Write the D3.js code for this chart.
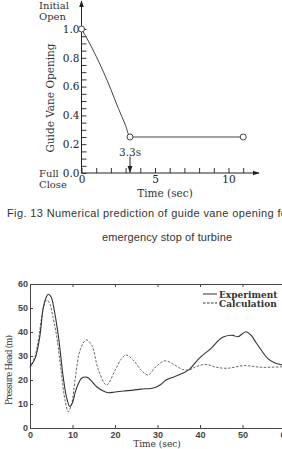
<!DOCTYPE html>
<html>
<head>
<meta charset="utf-8">
<script src="https://cdn.jsdelivr.net/npm/d3@7"></script>
<style>
  body { margin: 0; background: #fff; }
  svg { display: block; }
</style>
</head>
<body>
<div id="chart"></div>
<script>
// guide vane closing law (Fig. 13)
var vaneTime  = [0, 0.5, 1.0, 1.5, 2.0, 2.5, 3.0, 3.3, 11];
var vaneOpen  = [1.0, 0.91, 0.81, 0.70, 0.58, 0.45, 0.33, 0.25, 0.25];
var vaneMarks = [0, 3.3, 11];
var vaneYTicks = d3.range(0, 1.0001, 0.05);
var vaneYLabels = [0, 0.2, 0.4, 0.6, 0.8, 1.0];
var vaneXTicks = d3.range(0, 12, 1);
var vaneXLabels = [0, 5, 10];

// pressure head at spiral case
var expTime = [0, 1.2, 2.3, 3.1, 3.7, 4.3, 5.0, 5.5, 6.7, 7.8, 8.7, 9.4, 10.0, 10.6, 11.4, 12.2, 13.5, 14.5, 15.7, 17.0, 18.4, 20, 22, 24.3, 26.1, 29.3, 30.8, 32, 34, 35.9, 37.5, 39.8, 42.6, 44.5, 45.6, 47.7, 48.9, 50.8, 52, 53.2, 54.4, 55.9, 57.5, 59.3, 60];
var expHead = [25.5, 29, 38, 50, 54, 55.7, 54.5, 51, 38, 21.4, 12, 8.9, 10.5, 14.6, 18.5, 20.8, 21.1, 19.5, 17.2, 15.6, 14.7, 15.0, 15.4, 15.8, 16.2, 16.8, 18.2, 20, 21.4, 22.8, 24.4, 29, 33.2, 36.7, 38, 38.6, 38, 40.1, 38.7, 35.5, 32.5, 29, 27.2, 26.3, 26.1];
var calTime = [0, 1.2, 2.0, 2.7, 3.3, 3.9, 4.6, 5.3, 6.3, 7.3, 8.3, 9.0, 9.8, 10.6, 11.8, 13.2, 14.5, 16.1, 18.0, 20, 21.4, 22.6, 24.3, 26.1, 27.8, 29.6, 31.8, 34, 35.9, 37.5, 39, 41.4, 43.8, 46.5, 50.4, 54.4, 59.3, 60];
var calHead = [25, 30, 37, 45.7, 51, 53.3, 52, 47, 38, 24, 11, 6.8, 10, 20, 32.5, 36.7, 34.6, 24.2, 17.9, 24, 28.6, 30.4, 28.3, 24.2, 22.1, 25.5, 28, 26.3, 24.4, 24.2, 25.5, 26.5, 25.3, 24.9, 26, 25.3, 25.5, 25.5];
var headTicks = [0, 10, 20, 30, 40, 50, 60];
var timeTicks = [0, 10, 20, 30, 40, 50, 60];

var W = 282, H = 449;
var serif = "'DejaVu Serif', serif";
var sans = "'Liberation Sans', Arial, sans-serif";

var svg = d3.select("#chart").append("svg")
    .attr("width", W)
    .attr("height", H);

svg.append("rect").attr("width", W).attr("height", H).attr("fill", "#fff");

var defs = svg.append("defs");
defs.append("marker")
    .attr("id", "arrow")
    .attr("viewBox", "0 0 10 10")
    .attr("refX", 9).attr("refY", 5)
    .attr("markerWidth", 7).attr("markerHeight", 7)
    .attr("orient", "auto")
    .append("path")
    .attr("d", "M0,1.5 L10,5 L0,8.5 Z")
    .attr("fill", "#222");

// ---------- top chart ----------
var xT = d3.scaleLinear().domain([0, 10]).range([81.5, 228.5]);
var yT = d3.scaleLinear().domain([0, 1]).range([173, 29]);
var topG = svg.append("g");

// axis lines with arrows
topG.append("line")
    .attr("x1", xT(0)).attr("y1", yT(0))
    .attr("x2", xT(0)).attr("y2", 1)
    .attr("stroke", "#222").attr("stroke-width", 1)
    .attr("marker-end", "url(#arrow)");
topG.append("line")
    .attr("x1", xT(0)).attr("y1", yT(0))
    .attr("x2", 259).attr("y2", yT(0))
    .attr("stroke", "#222").attr("stroke-width", 1)
    .attr("marker-end", "url(#arrow)");

var yAxT = topG.append("g")
    .attr("transform", "translate(" + xT(0) + ",0)")
    .call(d3.axisLeft(yT)
        .tickValues(vaneYTicks)
        .tickSizeInner(-5).tickSizeOuter(0)
        .tickPadding(2)
        .tickFormat(function(d) {
            return vaneYLabels.some(function(v) { return Math.abs(v - d) < 1e-6; }) ? d3.format(".1f")(d) : "";
        }));
yAxT.select(".domain").remove();
yAxT.selectAll("line").attr("stroke", "#333");
yAxT.selectAll("text").attr("font-family", serif).attr("font-size", 10.5).attr("fill", "#222");

var xAxT = topG.append("g")
    .attr("transform", "translate(0," + yT(0) + ")")
    .call(d3.axisBottom(xT)
        .tickValues(vaneXTicks)
        .tickSizeInner(-5).tickSizeOuter(0)
        .tickPadding(3)
        .tickFormat(function(d) { return vaneXLabels.indexOf(d) >= 0 ? d : ""; }));
xAxT.select(".domain").remove();
xAxT.selectAll("line").attr("stroke", "#333");
xAxT.selectAll("text").attr("font-family", serif).attr("font-size", 10.5).attr("fill", "#222");

// curve
var vaneData = vaneTime.map(function(t, i) { return [t, vaneOpen[i]]; });
topG.append("path")
    .datum(vaneData)
    .attr("fill", "none")
    .attr("stroke", "#444")
    .attr("stroke-width", 1)
    .attr("d", d3.line()
        .x(function(d) { return xT(d[0]); })
        .y(function(d) { return yT(d[1]); })
        .curve(d3.curveMonotoneX));

topG.selectAll("circle.mk")
    .data(vaneMarks)
    .enter().append("circle")
    .attr("class", "mk")
    .attr("cx", function(d) { return xT(d); })
    .attr("cy", function(d) {
        var i = vaneTime.indexOf(d);
        return yT(vaneOpen[i]);
    })
    .attr("r", 3)
    .attr("fill", "#fff")
    .attr("stroke", "#444")
    .attr("stroke-width", 1);

// 3.3s marker
topG.append("line")
    .attr("x1", xT(3.3)).attr("y1", yT(0.115))
    .attr("x2", xT(3.3)).attr("y2", yT(0.005))
    .attr("stroke", "#222").attr("stroke-width", 1)
    .attr("marker-end", "url(#arrow)");
topG.append("text")
    .attr("x", xT(3.3)).attr("y", 156)
    .attr("text-anchor", "middle")
    .attr("font-family", serif).attr("font-size", 10.5).attr("fill", "#333")
    .text("3.3s");

// side labels
function sideText(txt, x, y) {
    topG.append("text")
        .attr("x", x).attr("y", y)
        .attr("font-family", serif).attr("font-size", 10).attr("fill", "#333")
        .text(txt);
}
sideText("Initial", 39, 9);
sideText("Open", 39, 20);
sideText("Full", 39, 177);
sideText("Close", 39, 188);

topG.append("text")
    .attr("transform", "translate(54,98) rotate(-90)")
    .attr("text-anchor", "middle")
    .attr("font-family", serif).attr("font-size", 10.5).attr("fill", "#333")
    .text("Guide Vane Opening");

topG.append("text")
    .attr("x", 165).attr("y", 197)
    .attr("text-anchor", "middle")
    .attr("font-family", serif).attr("font-size", 10.5).attr("fill", "#333")
    .text("Time (sec)");

// caption (runs past the right edge, as in the source scan)
svg.append("text")
    .attr("x", 7).attr("y", 217)
    .attr("font-family", sans).attr("font-size", 11).attr("fill", "#333")
    .attr("textLength", 284).attr("lengthAdjust", "spacing")
    .text("Fig. 13 Numerical prediction of guide vane opening for");
svg.append("text")
    .attr("x", 167).attr("y", 241)
    .attr("text-anchor", "middle")
    .attr("font-family", sans).attr("font-size", 11).attr("fill", "#333")
    .attr("textLength", 130).attr("lengthAdjust", "spacing")
    .text("emergency stop of turbine");

// ---------- bottom chart ----------
var xB = d3.scaleLinear().domain([0, 60]).range([30, 285]);
var yB = d3.scaleLinear().domain([0, 60]).range([428, 284]);
var bot = svg.append("g");

var xAxB = bot.append("g")
    .attr("transform", "translate(0," + yB(0) + ")")
    .call(d3.axisBottom(xB).tickValues(timeTicks)
        .tickSizeInner(-3).tickSizeOuter(0).tickPadding(4));
var xAxB2 = bot.append("g")
    .attr("transform", "translate(0," + yB(60) + ")")
    .call(d3.axisTop(xB).tickValues(timeTicks)
        .tickSizeInner(-3).tickSizeOuter(0).tickFormat(""));
var yAxB = bot.append("g")
    .attr("transform", "translate(" + xB(0) + ",0)")
    .call(d3.axisLeft(yB).tickValues(headTicks)
        .tickSizeInner(-3).tickSizeOuter(0).tickPadding(2));

[xAxB, xAxB2, yAxB].forEach(function(g) {
    g.select(".domain").attr("stroke", "#444").attr("stroke-width", 1);
    g.selectAll("line").attr("stroke", "#444");
    g.selectAll("text").attr("font-family", sans).attr("font-size", 9)
        .attr("font-weight", "bold").attr("fill", "#444");
});

var line = d3.line()
    .x(function(d) { return xB(d[0]); })
    .y(function(d) { return yB(d[1]); })
    .curve(d3.curveCatmullRom.alpha(0.5));

bot.append("path")
    .datum(calTime.map(function(t, i) { return [t, calHead[i]]; }))
    .attr("fill", "none")
    .attr("stroke", "#555")
    .attr("stroke-width", 0.9)
    .attr("stroke-dasharray", "2.5,1.5")
    .attr("d", line);

bot.append("path")
    .datum(expTime.map(function(t, i) { return [t, expHead[i]]; }))
    .attr("fill", "none")
    .attr("stroke", "#333")
    .attr("stroke-width", 1.1)
    .attr("d", line);

// legend
var legend = [
    {name: "Experiment", dash: null, y: 294},
    {name: "Calculation", dash: "2.5,1.5", y: 303}
];
var lg = bot.selectAll("g.lg").data(legend).enter().append("g").attr("class", "lg");
lg.append("line")
    .attr("x1", 203).attr("x2", 217)
    .attr("y1", function(d) { return d.y; })
    .attr("y2", function(d) { return d.y; })
    .attr("stroke", "#333").attr("stroke-width", 1)
    .attr("stroke-dasharray", function(d) { return d.dash; });
lg.append("text")
    .attr("x", 219)
    .attr("y", function(d) { return d.y + 3.5; })
    .attr("font-family", serif).attr("font-size", 9).attr("font-weight", "bold")
    .attr("fill", "#333")
    .text(function(d) { return d.name; });

bot.append("text")
    .attr("transform", "translate(12,370) rotate(-90)")
    .attr("text-anchor", "middle")
    .attr("font-family", serif).attr("font-size", 8.5).attr("fill", "#333")
    .attr("textLength", 70).attr("lengthAdjust", "spacing")
    .text("Pressure Head (m)");

bot.append("text")
    .attr("x", 157).attr("y", 447)
    .attr("text-anchor", "middle")
    .attr("font-family", serif).attr("font-size", 9).attr("fill", "#333")
    .text("Time (sec)");
</script>
</body>
</html>
